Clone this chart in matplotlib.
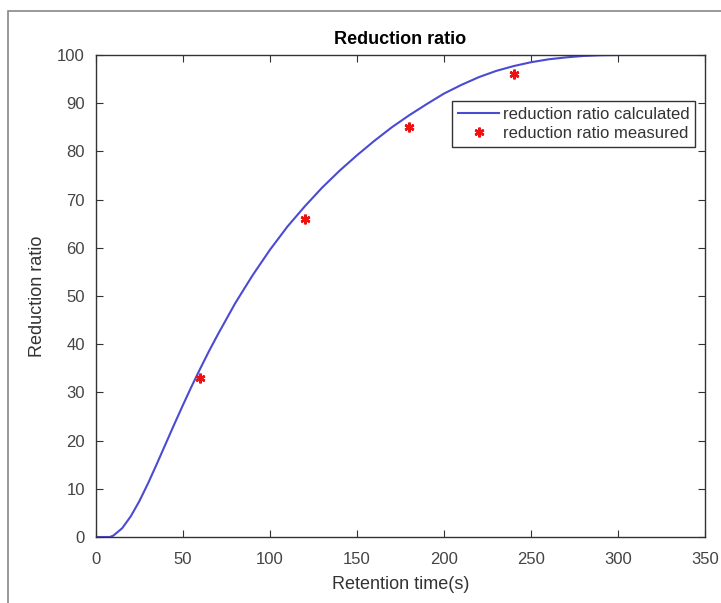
import numpy as np
import matplotlib
matplotlib.use('Agg')
import matplotlib.pyplot as plt
from matplotlib.patches import Rectangle

plt.rcParams['font.family'] = ['Liberation Sans', 'DejaVu Sans']

# curva calculada
t_calc = [0, 5, 8, 10, 15, 20, 25, 30, 35, 40, 45, 50, 55, 60, 65, 70, 80, 90,
          100, 110, 120, 130, 140, 150, 160, 170, 180, 190, 200, 210, 220, 230,
          240, 250, 260, 270, 280, 290, 300, 325, 350]
r_calc = [0, 0, 0, 0.3, 1.8, 4.3, 7.5, 11.2, 15.2, 19.3, 23.4, 27.4, 31.3, 35.0,
          38.6, 42.0, 48.5, 54.3, 59.6, 64.4, 68.6, 72.5, 76.0, 79.2, 82.2, 85.0,
          87.5, 89.8, 92.0, 93.8, 95.4, 96.7, 97.7, 98.5, 99.1, 99.5, 99.8,
          99.95, 100, 100, 100]

# puntos medidos
t_meas = [60, 120, 180, 240]
r_meas = [33, 66, 85, 96]

xticks = np.arange(0, 351, 50)
yticks = np.arange(0, 101, 10)

fig = plt.figure(figsize=(7.21, 6.03), dpi=100)
ax = fig.add_axes([96/721, 66/603, 609/721, 482/603])

ax.plot(t_calc, r_calc, color='#4b4bd2', linewidth=1.5,
        label='reduction ratio calculated')
ax.plot(t_meas, r_meas, linestyle='none', marker=(6, 2, 0), color='#ee1111',
        markersize=7, markeredgewidth=1.8, label='reduction ratio measured')

ax.set_xlim(0, 350)
ax.set_ylim(0, 100)
ax.set_xticks(xticks)
ax.set_yticks(yticks)
ax.tick_params(direction='in', top=True, right=True, length=5,
               labelsize=12, colors='#333333', labelcolor='#444444')
ax.tick_params(axis='x', pad=11)
ax.tick_params(axis='y', pad=8)
for s in ax.spines.values():
    s.set_color('#333333')
    s.set_linewidth(1.0)

ax.set_title('Reduction ratio', fontsize=13, fontweight='bold', pad=8)
ax.set_xlabel('Retention time(s)', fontsize=13, color='#333333', labelpad=6)
ax.set_ylabel('Reduction ratio', fontsize=13, color='#333333', labelpad=8)

leg = ax.legend(loc='upper right', bbox_to_anchor=(0.984, 0.905),
                fontsize=12, frameon=True, fancybox=False, framealpha=1,
                edgecolor='#333333', borderpad=0.35, labelspacing=0.25,
                handlelength=2.5, handletextpad=0.2, borderaxespad=0)
leg.get_frame().set_linewidth(1.0)
for txt in leg.get_texts():
    txt.set_color('#333333')

# marco gris exterior
fig.patches.append(Rectangle((8/721, -0.1), 1.2, (592/603) + 0.1,
                             transform=fig.transFigure, fill=False,
                             edgecolor='#888888', linewidth=1.2))

plt.savefig('out.png', dpi=100, facecolor='white')
plt.close()
